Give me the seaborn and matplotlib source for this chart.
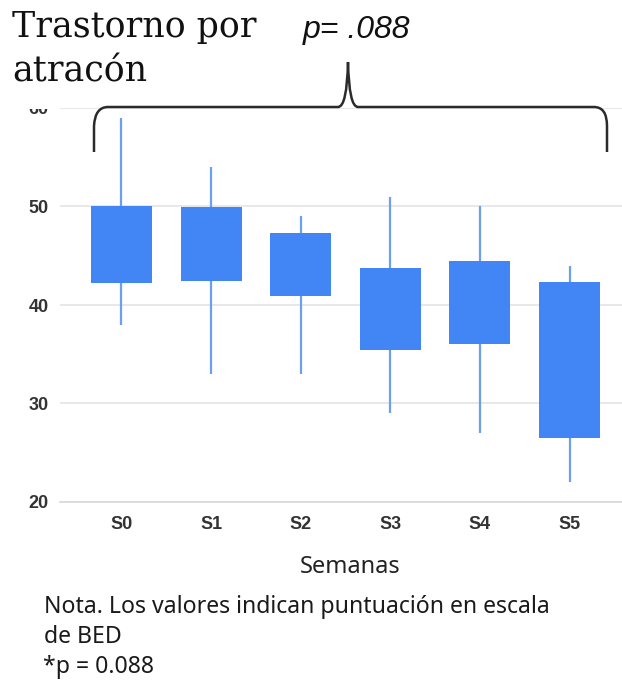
import numpy as np
import pandas as pd
import matplotlib
matplotlib.use("Agg")
import matplotlib.pyplot as plt
from matplotlib.path import Path
from matplotlib.patches import PathPatch, Rectangle
import seaborn as sns

# Weekly BED scores: whisker range (min/max) and box range (lower/upper)
weeks = ["S0", "S1", "S2", "S3", "S4", "S5"]
low = [38, 33, 33, 29, 27, 22]
box_low = [42.2, 42.4, 40.9, 35.4, 36.0, 26.5]
box_high = [50.0, 49.9, 47.3, 43.8, 44.5, 42.3]
high = [59, 54, 49, 51, 50, 44]
y_ticks = [20, 30, 40, 50, 60]

df = pd.DataFrame({
    "week": weeks,
    "span": np.array(box_high) - np.array(box_low),
    "base": box_low,
})

sns.set_theme(style="white")
plt.rcParams["font.family"] = ["Liberation Sans", "DejaVu Sans"]

W, H = 622, 680
fig = plt.figure(figsize=(W / 100, H / 100), dpi=100)
fig.patch.set_facecolor("white")

def fx(px):
    return px / W

def fy(py):
    return 1 - py / H

# plot area runs slightly past the right edge of the canvas
ax = fig.add_axes([fx(60), fy(502), fx(631) - fx(60), fy(108) - fy(502)])

# whiskers behind the boxes
ax.vlines(x=np.arange(len(weeks)), ymin=low, ymax=high,
          color="#6d9ff0", linewidth=1.6, zorder=2)

sns.barplot(data=df, x="week", y="span", bottom=df["base"].values,
            color="#4285F4", saturation=1, width=0.68, ax=ax,
            edgecolor="none", linewidth=0, zorder=3)

ax.set_xlim(-0.686, 5.686)
ax.set_ylim(20, 60)
ax.set_yticks(y_ticks)
ax.yaxis.grid(True, color="#e4e4e8", linewidth=1.2)
ax.set_axisbelow(True)
for s in ["top", "right", "left"]:
    ax.spines[s].set_visible(False)
ax.spines["bottom"].set_color("#d8d8dc")
ax.spines["bottom"].set_linewidth(1.2)
ax.tick_params(axis="both", length=0, labelsize=13, labelcolor="#333333")
ax.tick_params(axis="y", pad=8)
ax.tick_params(axis="x", pad=10)
for lab in ax.get_yticklabels() + ax.get_xticklabels():
    lab.set_fontweight("bold")

ax.set_ylabel("")
ax.set_xlabel("Semanas", fontsize=17, color="#222222",
              family=["Noto Sans", "DejaVu Sans"])
ax.xaxis.set_label_coords((350 - 60) / (631 - 60), (502 - 567) / (502 - 108))
ax.xaxis.label.set_va("center")

# title band sits over the upper tick label
fig.add_artist(Rectangle((0, fy(108.5)), fx(58), 1 - fy(108.5), transform=fig.transFigure,
                         facecolor="white", edgecolor="none", zorder=10))

# title
fig.text(fx(12), fy(37), "Trastorno por", fontsize=25, family=["DejaVu Serif"],
         color="#111111", va="baseline", ha="left", zorder=11)
fig.text(fx(12), fy(82), "atracón", fontsize=25, family=["DejaVu Serif"],
         color="#111111", va="baseline", ha="left", zorder=11)
fig.text(fx(303), fy(38), "p= .088", fontsize=23, style="italic",
         family=["Liberation Sans", "DejaVu Sans"], color="#111111",
         va="baseline", ha="left", zorder=11)

# curly brace spanning all weeks
pts = [
    (94, 152), (94, 126), (95, 107), (108, 107),
    (338, 107), (347, 107), (348, 62), (349, 107), (358, 107),
    (594, 107), (607, 107), (607, 126), (607, 152),
]
codes = [Path.MOVETO, Path.LINETO, Path.CURVE3, Path.CURVE3,
         Path.LINETO, Path.CURVE3, Path.CURVE3, Path.CURVE3, Path.CURVE3,
         Path.LINETO, Path.CURVE3, Path.CURVE3, Path.LINETO]
verts = [(fx(x), fy(y)) for x, y in pts]
fig.add_artist(PathPatch(Path(verts, codes), transform=fig.transFigure,
                         facecolor="none", edgecolor="#2b2b2b", linewidth=1.8,
                         zorder=12))

# note
note_font = ["Noto Sans", "DejaVu Sans"]
fig.text(fx(44), fy(613), "Nota. Los valores indican puntuación en escala",
         fontsize=16.6, family=note_font, color="#1a1a1a", va="baseline", ha="left")
fig.text(fx(44), fy(643), "de BED", fontsize=16.6, family=note_font,
         color="#1a1a1a", va="baseline", ha="left")
fig.text(fx(43), fy(673), "*p = 0.088", fontsize=16.6, family=note_font,
         color="#1a1a1a", va="baseline", ha="left")

fig.savefig("out.png", dpi=100, facecolor="white")
